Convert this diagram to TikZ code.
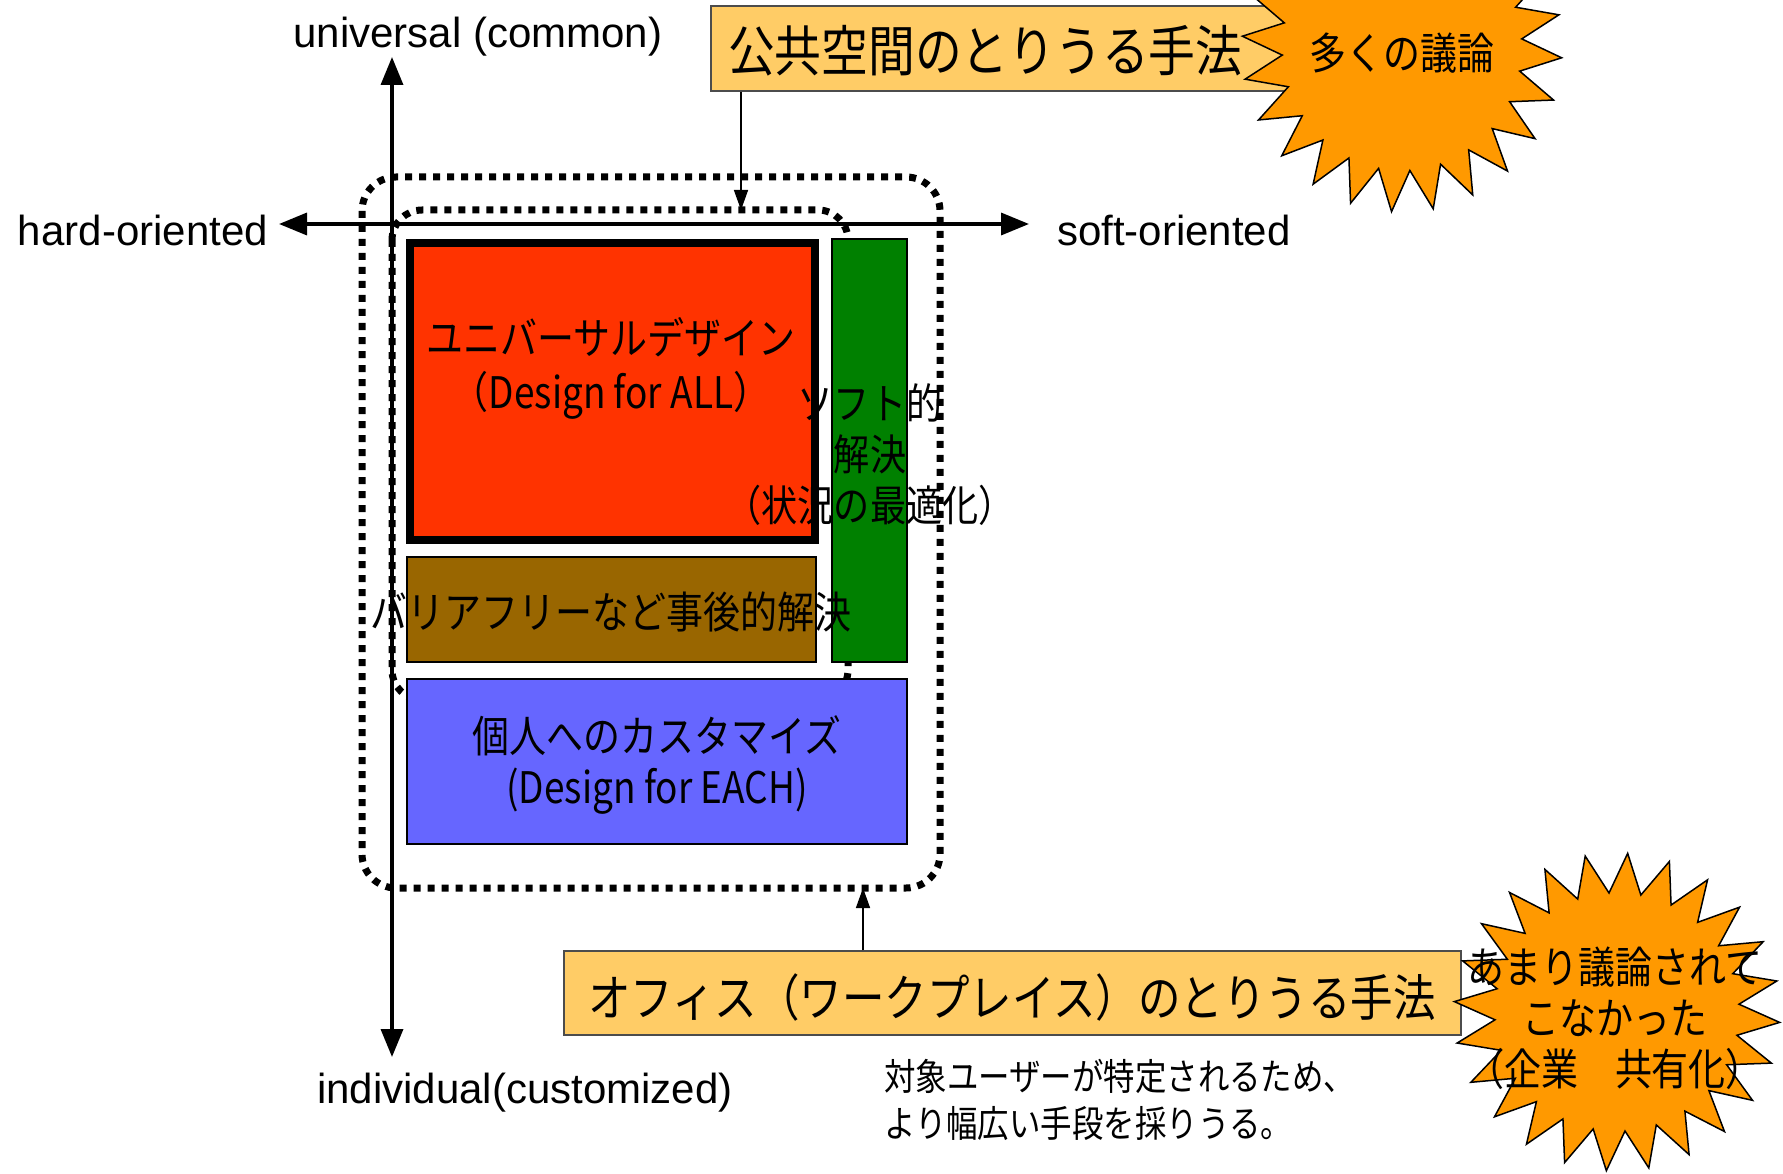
\documentclass[tikz,border=0pt]{standalone}
\usepackage{fontspec}
\setmainfont{Liberation Sans}
\newfontfamily\jp[FakeStretch=0.85]{Noto Sans CJK JP}
\usetikzlibrary{arrows.meta}
\definecolor{boxorange}{HTML}{FFCC66}
\definecolor{starorange}{HTML}{FF9900}
\definecolor{udred}{HTML}{FF3300}
\definecolor{bfbrown}{HTML}{996600}
\definecolor{softgreen}{HTML}{008000}
\definecolor{eachblue}{HTML}{6666FF}
\tikzset{
  axisline/.style={line width=3.5pt, {Triangle[length=28pt,width=22pt]}-{Triangle[length=28pt,width=22pt]}},
  conn/.style={line width=1.5pt, -{Triangle[length=20pt,width=14pt]}},
  dotbox/.style={line width=7pt, dash pattern=on 7pt off 7pt},
  plainbox/.style={draw=black, line width=1.5pt, inner sep=0pt},
  titlebox/.style={draw=black!70, line width=1.5pt, fill=boxorange, inner sep=0pt},
  starshape/.style={draw=black, line width=1.5pt, fill=starorange},
  jtext/.style 2 args={inner sep=0pt, align=center, font=\jp\fontsize{#1}{#2}\selectfont},
  ltext/.style={inner sep=0pt, font=\fontsize{42}{50}\selectfont}
}
\begin{document}
\begin{tikzpicture}[x=1pt, y=-1pt]
\clip (0,0) rectangle (1783,1174);
\fill[white] (0,0) rectangle (1783,1174);

% dotted regions
\draw[dotbox, rounded corners=34pt] (362,177) rectangle (940,888);
\draw[dotbox, rounded corners=30pt] (392,210) rectangle (848,700);

% axes
\coordinate (ytop) at (392,57);
\coordinate (ybot) at (392,1057);
\coordinate (xleft) at (279,224);
\coordinate (xright) at (1029,224);
\draw[axisline] (ytop) -- (ybot);
\draw[axisline] (xleft) -- (xright);

\node[ltext] (lu) at (478,37) {universal (common)};
\node[ltext, anchor=east] (lh) at (268,230) {hard-oriented};
\node[ltext, anchor=west] (ls) at (1057,230) {soft-oriented};
\node[ltext] (li) at (525,1093) {individual(customized)};

% boxes
\node[plainbox, fill=udred, line width=8pt, minimum width=405pt, minimum height=297pt] (red) at (612.5,391.5) {};
\node[plainbox, fill=bfbrown, minimum width=409pt, minimum height=105pt] (brown) at (611.5,609.5) {};
\node[plainbox, fill=softgreen, minimum width=75pt, minimum height=423pt] (green) at (869.5,450.5) {};
\node[plainbox, fill=eachblue, minimum width=500pt, minimum height=165pt] (blue) at (657,761.5) {};

\node[jtext={43.5}{54}] (redtext) at (611,368) {ユニバーサルデザイン\\（Design for ALL）};
\node[jtext={43.5}{51}] (browntext) at (611,612) {バリアフリーなど事後的解決};
\node[jtext={42.5}{51}] (greentext) at (870,455) {ソフト的\\解決\\（状況の最適化）};
\node[jtext={43.5}{51}] (bluetext) at (657,765) {個人へのカスタマイズ\\(Design for EACH)};

% top title + star
\node[titlebox, minimum width=589pt, minimum height=85pt] (topbox) at (1005.5,48.5) {};
\node[jtext={55}{62}, anchor=west] (toptext) at (728,51) {公共空間のとりうる手法};
\coordinate (innertop) at (741,210);
\draw[conn] (topbox.south -| innertop) -- (innertop);

\draw[starshape] plot[samples=48, domain=0:47, variable=\k]
  ({1402+160*(0.875+0.125*cos(\k*180))*cos(\k*7.5+3.75)},
   {47+165*(0.875+0.125*cos(\k*180))*sin(\k*7.5+3.75)}) -- cycle;
\node[jtext={43.5}{51}] (star1text) at (1402,53) {多くの議論};

% bottom title + star
\node[titlebox, minimum width=897pt, minimum height=84pt] (botbox) at (1012.5,993) {};
\node[jtext={50}{58}] (bottext) at (1012,997) {オフィス（ワークプレイス）のとりうる手法};
\coordinate (outerbot) at (863,888);
\draw[conn] (botbox.north -| outerbot) -- (outerbot);

\draw[starshape] plot[samples=48, domain=0:47, variable=\k]
  ({1617+163*(0.875+0.125*cos(\k*180))*cos(\k*7.5+3.75)},
   {1012+159*(0.875+0.125*cos(\k*180))*sin(\k*7.5+3.75)}) -- cycle;
\node[jtext={43.5}{51}] (star2text) at (1615,1018) {あまり議論されて\\こなかった\\（企業　共有化）};

\node[jtext={37}{47}, align=left, anchor=west] (note) at (884,1100) {対象ユーザーが特定されるため、\\より幅広い手段を採りうる。};
\end{tikzpicture}
\end{document}
